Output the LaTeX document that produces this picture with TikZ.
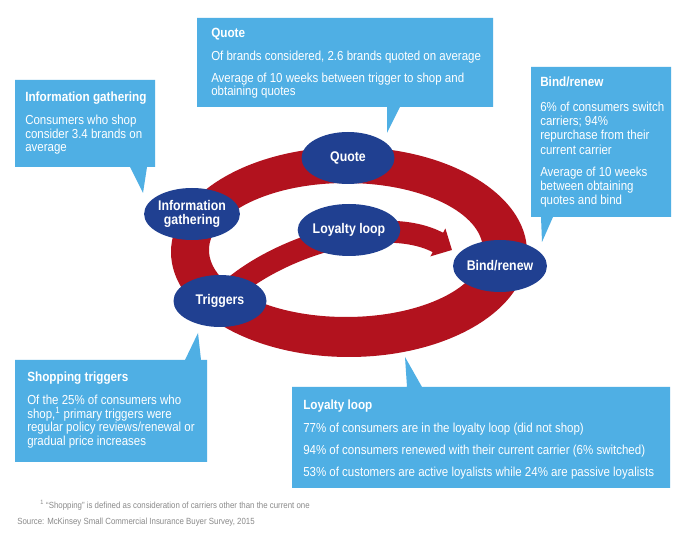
\documentclass[tikz,border=0pt]{standalone}
\usepackage{fontspec}
\setmainfont{Liberation Sans}[FakeStretch=0.88]
\usetikzlibrary{shapes.geometric,arrows.meta}
\definecolor{rouge}{HTML}{B2121E}
\definecolor{marine}{HTML}{204091}
\definecolor{bleu}{HTML}{4FAFE4}
\definecolor{gris}{HTML}{8A8A8A}
\newcommand{\titre}[1]{{\fontsize{10}{10}\selectfont\bfseries #1}}
\tikzset{
  etape/.style={ellipse,fill=marine,text=white,align=center,inner sep=0pt,
    minimum width=69.75pt,minimum height=39pt,font=\fontsize{10.5}{11}\selectfont\bfseries},
  bulle/.style={fill=bleu},
  texte/.style={anchor=north west,inner sep=0pt,text=white,align=left,
    font=\fontsize{9.8}{10.1}\selectfont},
  note/.style={anchor=west,inner sep=0pt,text=gris,font=\fontsize{6.7}{7}\selectfont},
}
\begin{document}
\begin{tikzpicture}[x=0.75pt,y=-0.75pt] % 1 unité = 1 pixel de l'image, y vers le bas

\fill[white] (0,0) rectangle (694,538);
\useasboundingbox (0,0) rectangle (694,538);

% anneau et boucle de fidélité
\fill[rouge,even odd rule] (349,252) ellipse [x radius=178,y radius=105] (346,250) ellipse [x radius=137,y radius=67];
\coordinate (depart) at (228,292);
\coordinate (pointe) at (452,250);
\draw[rouge,line width=16.5pt,-{Triangle[width=23pt,length=12pt]}] (depart) .. controls (280,245) and (385,214) .. (pointe);

\node[etape] (Q) at (348,158) {Quote};
\node[etape] (IG) at (192,214) {Information\\gathering};
\node[etape] (LL) at (349,230) {Loyalty loop};
\node[etape] (T) at (220,301) {Triggers};
\node[etape] (BR) at (500,266) {Bind/renew};

% bulles
\fill[bulle] (15,80) -- (155,80) -- (155,167) -- (147,167) -- (143,193) -- (130,167) -- (15,167) -- cycle;
\fill[bulle] (197,18) -- (493,18) -- (493,107) -- (400,107) -- (387,133) -- (387,107) -- (197,107) -- cycle;
\fill[bulle] (531,67) -- (671,67) -- (671,217) -- (553,217) -- (542,242) -- (541,217) -- (531,217) -- cycle;
\fill[bulle] (15,360) -- (185,360) -- (198,333) -- (201,360) -- (207,360) -- (207,462) -- (15,462) -- cycle;
\fill[bulle] (292,387) -- (407,387) -- (405,357) -- (422,387) -- (670,387) -- (670,488) -- (292,488) -- cycle;

\node[texte] (tIG) at (25,92) {\titre{Information gathering}\\[7pt]Consumers who shop\\consider 3.4 brands on\\average};
\node[texte] (tQ) at (211,28) {\titre{Quote}\\[7pt]Of brands considered, 2.6 brands quoted on average\\[6.5pt]Average of 10 weeks between trigger to shop and\\obtaining quotes};
\node[texte,font=\fontsize{9.8}{10.6}\selectfont] (tBR) at (540,77) {\titre{Bind/renew}\\[8pt]6\% of consumers switch\\carriers; 94\%\\repurchase from their\\current carrier\\[6pt]Average of 10 weeks\\between obtaining\\quotes and bind};
\node[texte] (tT) at (27,372) {\titre{Shopping triggers}\\[7pt]Of the 25\% of consumers who\\shop,\textsuperscript{1} primary triggers were\\regular policy reviews/renewal or\\gradual price increases};
\node[texte] (tLL) at (303,400) {\titre{Loyalty loop}\\[7pt]77\% of consumers are in the loyalty loop (did not shop)\\[6.5pt]94\% of consumers renewed with their current carrier (6\% switched)\\[6.5pt]53\% of customers are active loyalists while 24\% are passive loyalists};

\node[note] (renvoi) at (40,505) {\textsuperscript{1} “Shopping” is defined as consideration of carriers other than the current one};
\node[note] (source) at (17,522) {Source: McKinsey Small Commercial Insurance Buyer Survey, 2015};
\end{tikzpicture}
\end{document}
